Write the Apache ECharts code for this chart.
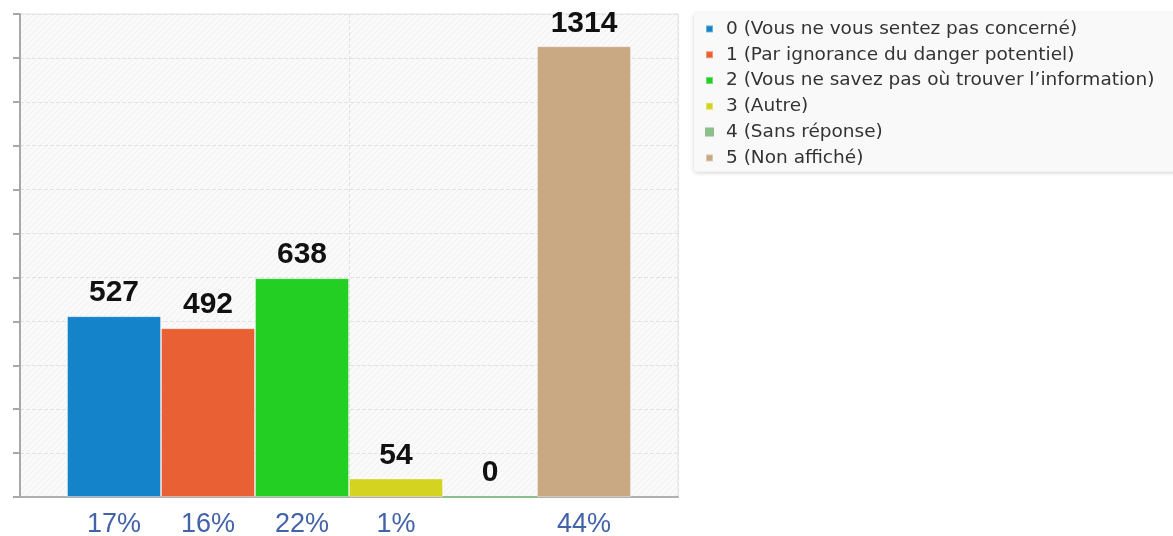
<!DOCTYPE html>
<html>
<head>
<meta charset="utf-8">
<script src="https://cdn.jsdelivr.net/npm/echarts@6/dist/echarts.min.js"></script>
<style>
  html, body { margin: 0; padding: 0; background: #fff; }
  #chart { width: 1173px; height: 536px; }
</style>
</head>
<body>
<div id="chart"></div>
<script>
// données du graphique
var names = [
  "0 (Vous ne vous sentez pas concerné)",
  "1 (Par ignorance du danger potentiel)",
  "2 (Vous ne savez pas où trouver l’information)",
  "3 (Autre)",
  "4 (Sans réponse)",
  "5 (Non affiché)"
];
var counts = [527, 492, 638, 54, 0, 1314];
var percents = ["17%", "16%", "22%", "1%", "", "44%"];
var colors = ["#1583c9", "#e96034", "#22cf22", "#d4d320", "#8cbf8c", "#c8a983"];

// fond hachuré de la zone de tracé
function hatch() {
  var c = document.createElement("canvas");
  c.width = 6; c.height = 6;
  var ctx = c.getContext("2d");
  ctx.fillStyle = "#fafafa";
  ctx.fillRect(0, 0, 6, 6);
  ctx.strokeStyle = "#eeeeee";
  ctx.lineWidth = 1;
  ctx.beginPath();
  ctx.moveTo(0, 6); ctx.lineTo(6, 0);
  ctx.moveTo(-3, 3); ctx.lineTo(3, -3);
  ctx.moveTo(3, 9); ctx.lineTo(9, 3);
  ctx.stroke();
  return c;
}

var series = [];
names.forEach(function (n, i) {
  series.push({
    name: n,
    type: "bar",
    xAxisIndex: 0,
    yAxisIndex: 0,
    barWidth: 94,
    barGap: "0%",
    data: [counts[i]],
    itemStyle: {
      color: colors[i],
      borderColor: i === 4 ? colors[i] : "rgba(255,255,255,0.35)",
      borderWidth: i === 4 ? 2 : 1
    },
    label: {
      show: true,
      position: "top",
      distance: 8,
      color: "#111",
      fontSize: 30,
      fontWeight: "bold",
      fontFamily: "Liberation Sans"
    }
  });
});
// étiquettes de pourcentage sous l'axe
percents.forEach(function (p, i) {
  series.push({
    name: "pct" + i,
    type: "bar",
    xAxisIndex: 2,
    yAxisIndex: 0,
    barWidth: 94,
    barGap: "0%",
    data: [0],
    itemStyle: { color: "transparent" },
    silent: true,
    label: {
      show: true,
      position: "bottom",
      distance: 14,
      formatter: function () { return p; },
      color: "#4262aa",
      fontSize: 27,
      fontFamily: "Liberation Sans"
    }
  });
});

var chart = echarts.init(document.getElementById("chart"));
chart.setOption({
  animation: false,
  grid: {
    left: 20, top: 14, right: 495, bottom: 39,
    show: true,
    backgroundColor: { image: hatch(), repeat: "repeat" },
    borderColor: "#e4e4e4",
    borderWidth: 1
  },
  legend: {
    data: names,
    orient: "vertical",
    left: 694,
    top: 13,
    padding: [6, 60, 4, 11],
    itemWidth: 7,
    itemHeight: 7,
    itemGap: 6,
    icon: "rect",
    backgroundColor: "#f9f9f9",
    borderRadius: 3,
    shadowBlur: 4,
    shadowColor: "rgba(0,0,0,0.18)",
    shadowOffsetY: 1,
    textStyle: {
      fontFamily: "DejaVu Sans",
      fontSize: 18.5,
      lineHeight: 19.8,
      color: "#333",
      padding: [0, 0, 0, 8]
    }
  },
  xAxis: [
    {
      type: "category",
      data: [""],
      axisLine: { lineStyle: { color: "#b0b0b0", width: 2 } },
      axisTick: { show: false },
      axisLabel: { show: false },
      splitLine: { show: false }
    },
    {
      type: "value",
      min: 0, max: 2, interval: 1,
      axisLine: { show: false },
      axisTick: { show: false },
      axisLabel: { show: false },
      splitLine: { show: true, lineStyle: { type: "dashed", color: "#e2e2e2" } }
    },
    {
      type: "category",
      data: [""],
      show: false
    }
  ],
  yAxis: [
    {
      type: "value",
      min: 0, max: 1408, interval: 128,
      axisLine: { show: true, lineStyle: { color: "#a8a8a8", width: 2 } },
      axisTick: { show: true, length: 7, lineStyle: { color: "#a8a8a8", width: 2 } },
      axisLabel: { show: false },
      splitLine: { show: true, lineStyle: { type: "dashed", color: "#e2e2e2" } }
    }
  ],
  series: series
});
</script>
</body>
</html>
